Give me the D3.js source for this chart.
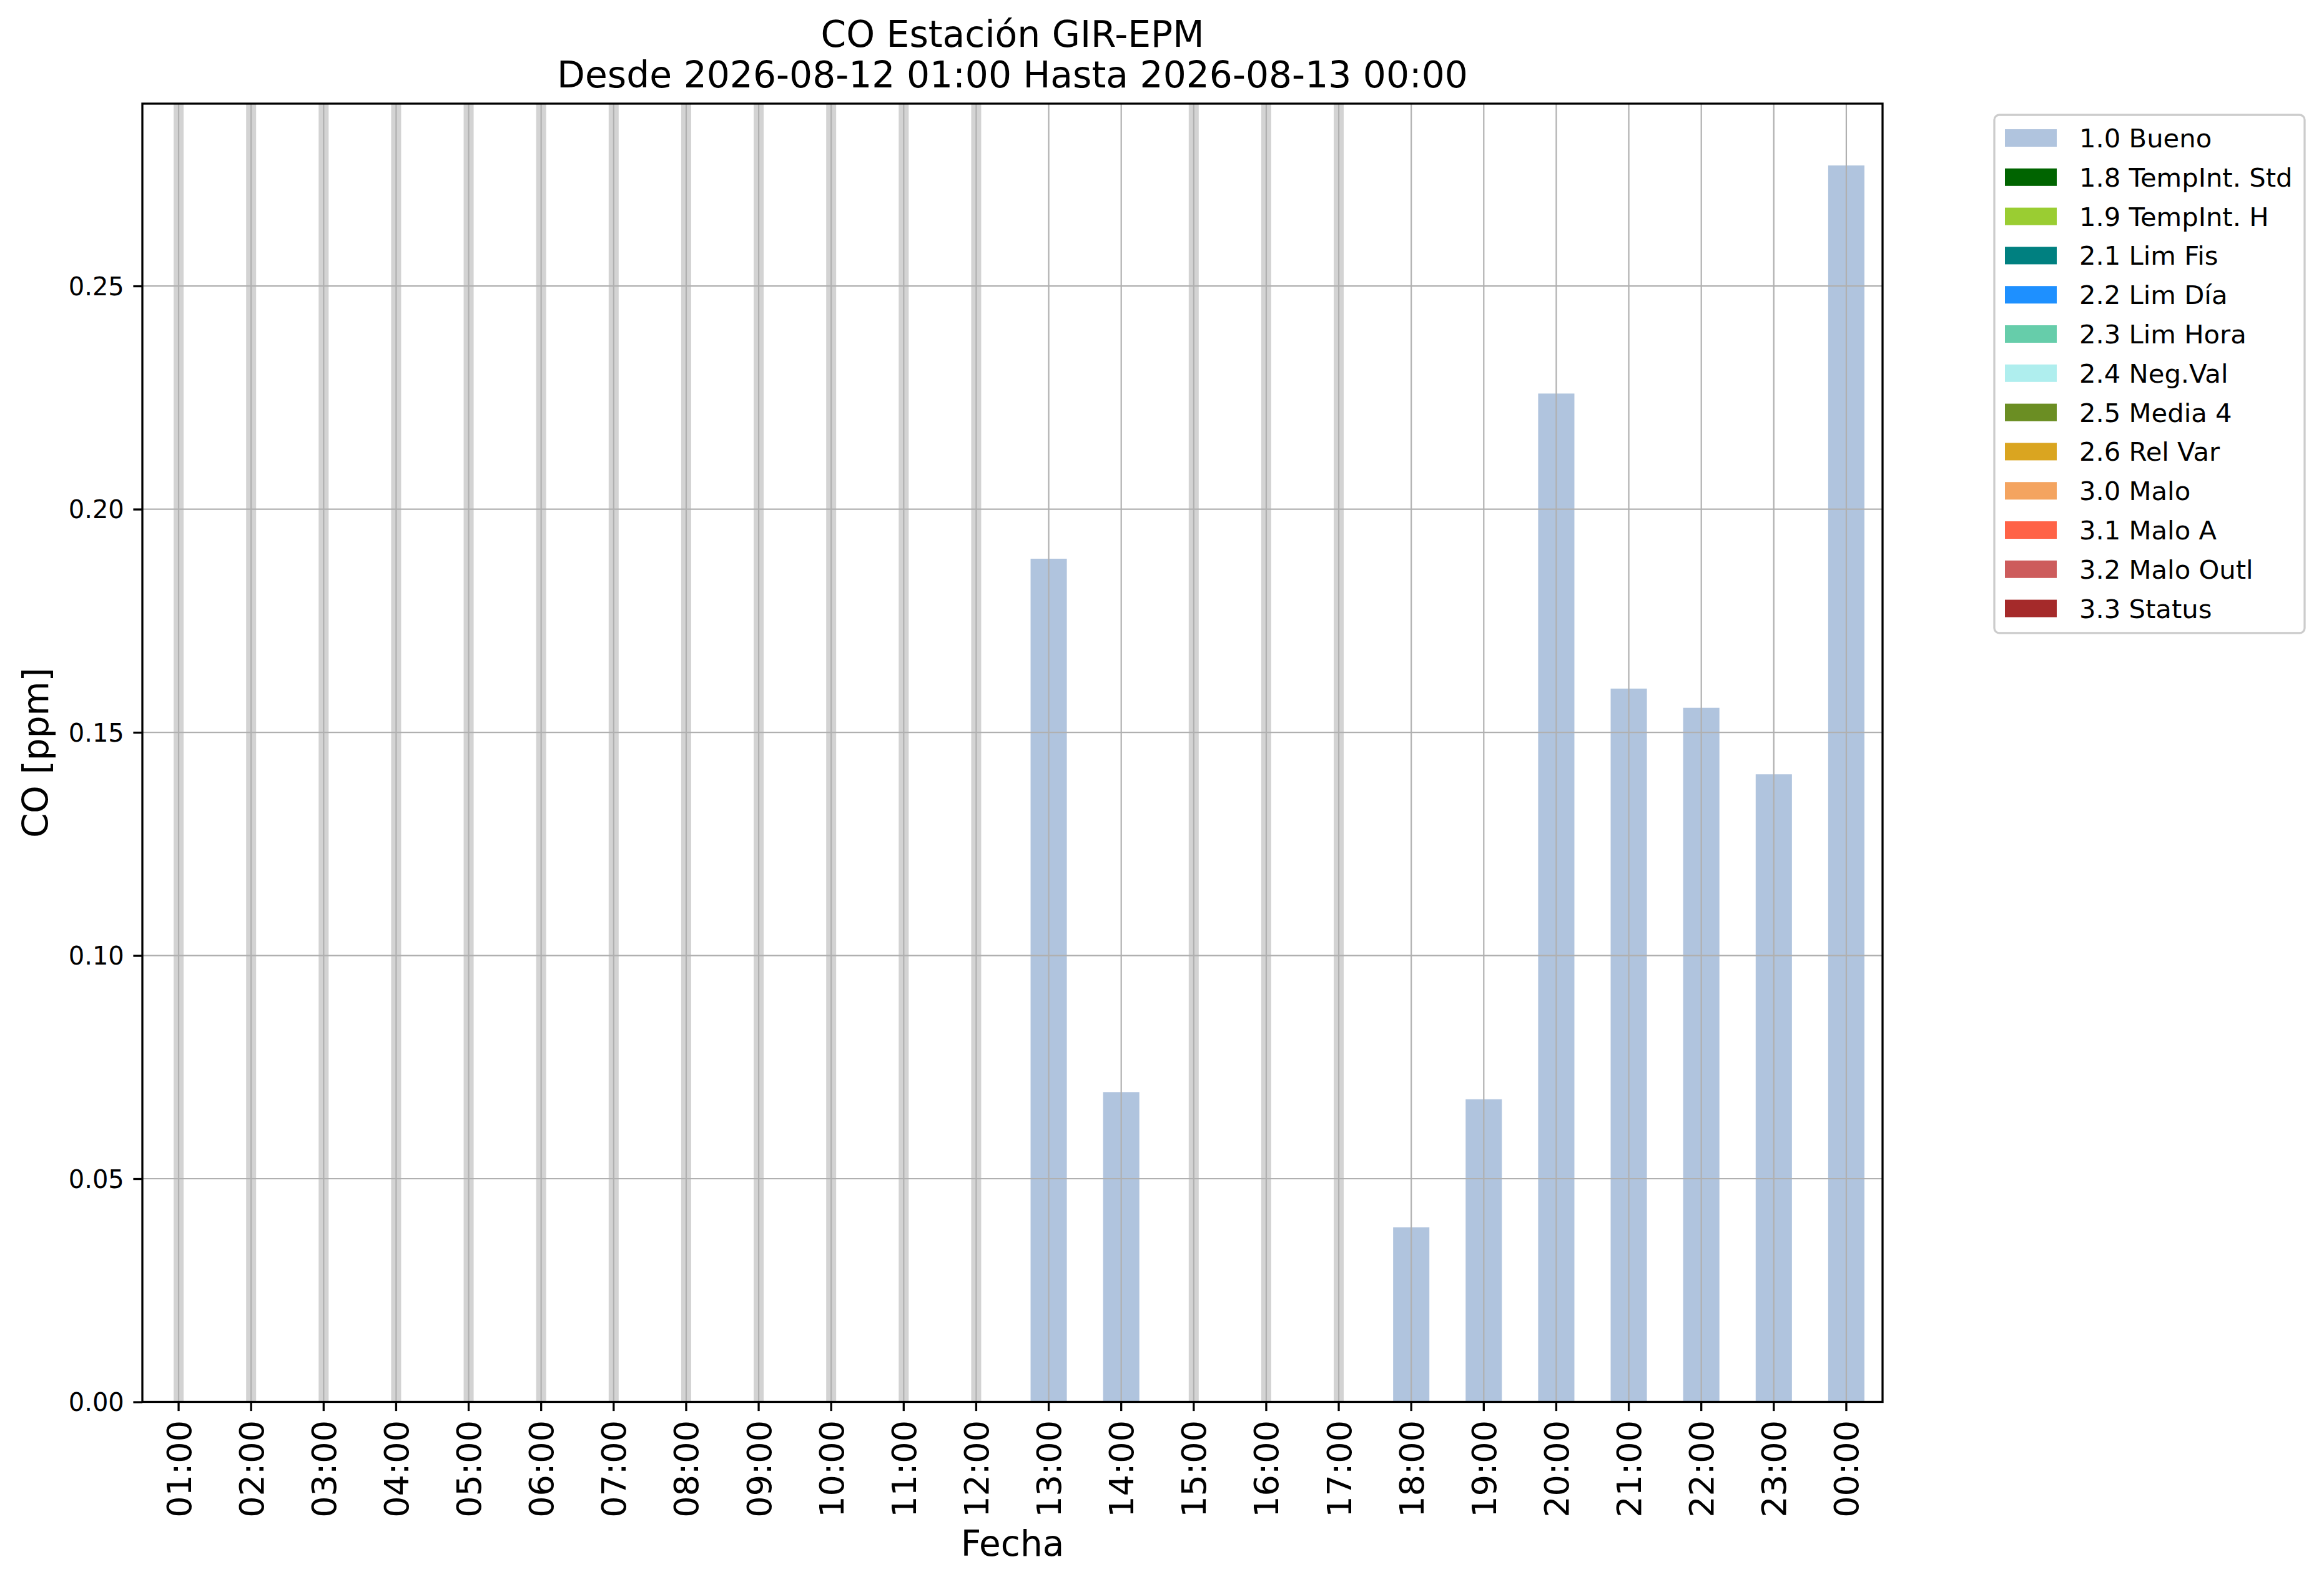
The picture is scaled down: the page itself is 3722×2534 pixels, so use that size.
<!DOCTYPE html>
<meta charset="utf-8">
<style>
body { margin: 0; background: white; }
text { font-family: "DejaVu Sans", sans-serif; fill: black; }
</style>
<script src="https://d3js.org/d3.v7.min.js"></script>
<body>
<script>
// hourly labels, 2026-08-12 01:00 .. 2026-08-13 00:00
const hours = ['01:00','02:00','03:00','04:00','05:00','06:00','07:00','08:00','09:00','10:00','11:00','12:00',
               '13:00','14:00','15:00','16:00','17:00','18:00','19:00','20:00','21:00','22:00','23:00','00:00'];
// CO [ppm], null = no data (drawn as grey band)
const coValues = [null,null,null,null,null,null,null,null,null,null,null,null,
                  0.1889,0.0694,null,null,null,0.0391,0.0678,0.2259,0.1598,0.1555,0.1406,0.2770];
const yTicks = [0, 0.05, 0.10, 0.15, 0.20, 0.25];

const flagNames = ['1.0 Bueno','1.8 TempInt. Std','1.9 TempInt. H','2.1 Lim Fis','2.2 Lim Día','2.3 Lim Hora',
                   '2.4 Neg.Val','2.5 Media 4','2.6 Rel Var','3.0 Malo','3.1 Malo A','3.2 Malo Outl','3.3 Status'];
const flagColors = ['#b0c4de','#006400','#9acd32','#008080','#1e90ff','#66cdaa',
                    '#afeeee','#6b8e23','#daa520','#f4a460','#ff6347','#cd5c5c','#a52a2a'];

const W = 3722, H = 2534;
const m = { left: 228, right: 3015, top: 166, bottom: 2245.5 };
const tick = 14.6;

const svg = d3.select('body').append('svg')
  .attr('width', W).attr('height', H);

const x = d3.scaleBand()
  .domain(hours)
  .range([m.left, m.right])
  .paddingInner(0.5)
  .paddingOuter(0.25);

const yMax = d3.max(coValues) * 1.05;
const y = d3.scaleLinear()
  .domain([0, yMax])
  .range([m.bottom, m.top]);

const data = hours.map((h, i) => ({hour: h, value: coValues[i]}));

// bars
svg.append('g').selectAll('rect')
  .data(data.filter(d => d.value != null))
  .enter().append('rect')
    .attr('x', d => x(d.hour))
    .attr('width', x.bandwidth())
    .attr('y', d => y(d.value))
    .attr('height', d => y(0) - y(d.value))
    .style('fill', flagColors[0]);

// missing hours
svg.append('g').selectAll('rect')
  .data(data.filter(d => d.value == null))
  .enter().append('rect')
    .attr('x', d => x(d.hour) + x.bandwidth() / 2 - 8)
    .attr('width', 16)
    .attr('y', m.top)
    .attr('height', m.bottom - m.top)
    .style('fill', '#d3d3d3');

// grid
const grid = svg.append('g').style('stroke', '#b0b0b0').style('stroke-width', 2.2);
grid.selectAll('.gx').data(hours).enter().append('line')
  .attr('x1', d => x(d) + x.bandwidth() / 2).attr('x2', d => x(d) + x.bandwidth() / 2)
  .attr('y1', m.top).attr('y2', m.bottom);
grid.selectAll('.gy').data(yTicks).enter().append('line')
  .attr('x1', m.left).attr('x2', m.right)
  .attr('y1', d => y(d)).attr('y2', d => y(d));

// axes
const xAxis = svg.append('g')
  .attr('transform', `translate(0, ${m.bottom})`)
  .call(d3.axisBottom(x).tickSize(tick).tickPadding(0));
xAxis.select('.domain').remove();
xAxis.selectAll('line').style('stroke-width', 3.3);
xAxis.selectAll('text')
  .attr('transform', 'rotate(-90)')
  .attr('x', -(tick + 14.6))
  .attr('y', 0)
  .attr('dy', '0.36em')
  .style('text-anchor', 'end')
  .style('font-size', '54.2px')
  .style('font-family', 'DejaVu Sans');

const yAxis = svg.append('g')
  .attr('transform', `translate(${m.left}, 0)`)
  .call(d3.axisLeft(y).tickValues(yTicks).tickFormat(d3.format('.2f')).tickSize(tick).tickPadding(14.6));
yAxis.select('.domain').remove();
yAxis.selectAll('line').style('stroke-width', 3.3);
yAxis.selectAll('text')
  .attr('dy', '0.36em')
  .style('font-size', '40px')
  .style('font-family', 'DejaVu Sans');

// frame
svg.append('rect')
  .attr('x', m.left).attr('y', m.top)
  .attr('width', m.right - m.left).attr('height', m.bottom - m.top)
  .style('fill', 'none').style('stroke', 'black').style('stroke-width', 3.3);

// titles
const cx = (m.left + m.right) / 2;
svg.append('text').attr('x', cx).attr('y', 75)
  .style('text-anchor', 'middle').style('font-size', '58.3px')
  .text('CO Estación GIR-EPM');
svg.append('text').attr('x', cx).attr('y', 140)
  .style('text-anchor', 'middle').style('font-size', '58.3px')
  .text('Desde 2026-08-12 01:00 Hasta 2026-08-13 00:00');

svg.append('text').attr('x', cx).attr('y', 2492)
  .style('text-anchor', 'middle').style('font-size', '56.5px')
  .text('Fecha');
svg.append('text')
  .attr('transform', `translate(77, ${(m.top + m.bottom) / 2}) rotate(-90)`)
  .style('text-anchor', 'middle').style('font-size', '56.5px')
  .text('CO [ppm]');

// legend
const legend = svg.append('g');
legend.append('rect')
  .attr('x', 3194).attr('y', 184)
  .attr('width', 497).attr('height', 830)
  .attr('rx', 8).attr('ry', 8)
  .style('fill', 'white').style('fill-opacity', 0.8)
  .style('stroke', '#cccccc').style('stroke-width', 3.3);
const rowStep = 62.8;
const item = legend.selectAll('.item')
  .data(flagNames)
  .enter().append('g')
    .attr('transform', (d, i) => `translate(0, ${221 + i * rowStep})`);
item.append('rect')
  .attr('x', 3211).attr('y', -14)
  .attr('width', 83).attr('height', 28)
  .style('fill', (d, i) => flagColors[i]);
item.append('text')
  .attr('x', 3330).attr('dy', '0.36em')
  .style('font-size', '41.7px')
  .text(d => d);
</script>
</body>
</html>
